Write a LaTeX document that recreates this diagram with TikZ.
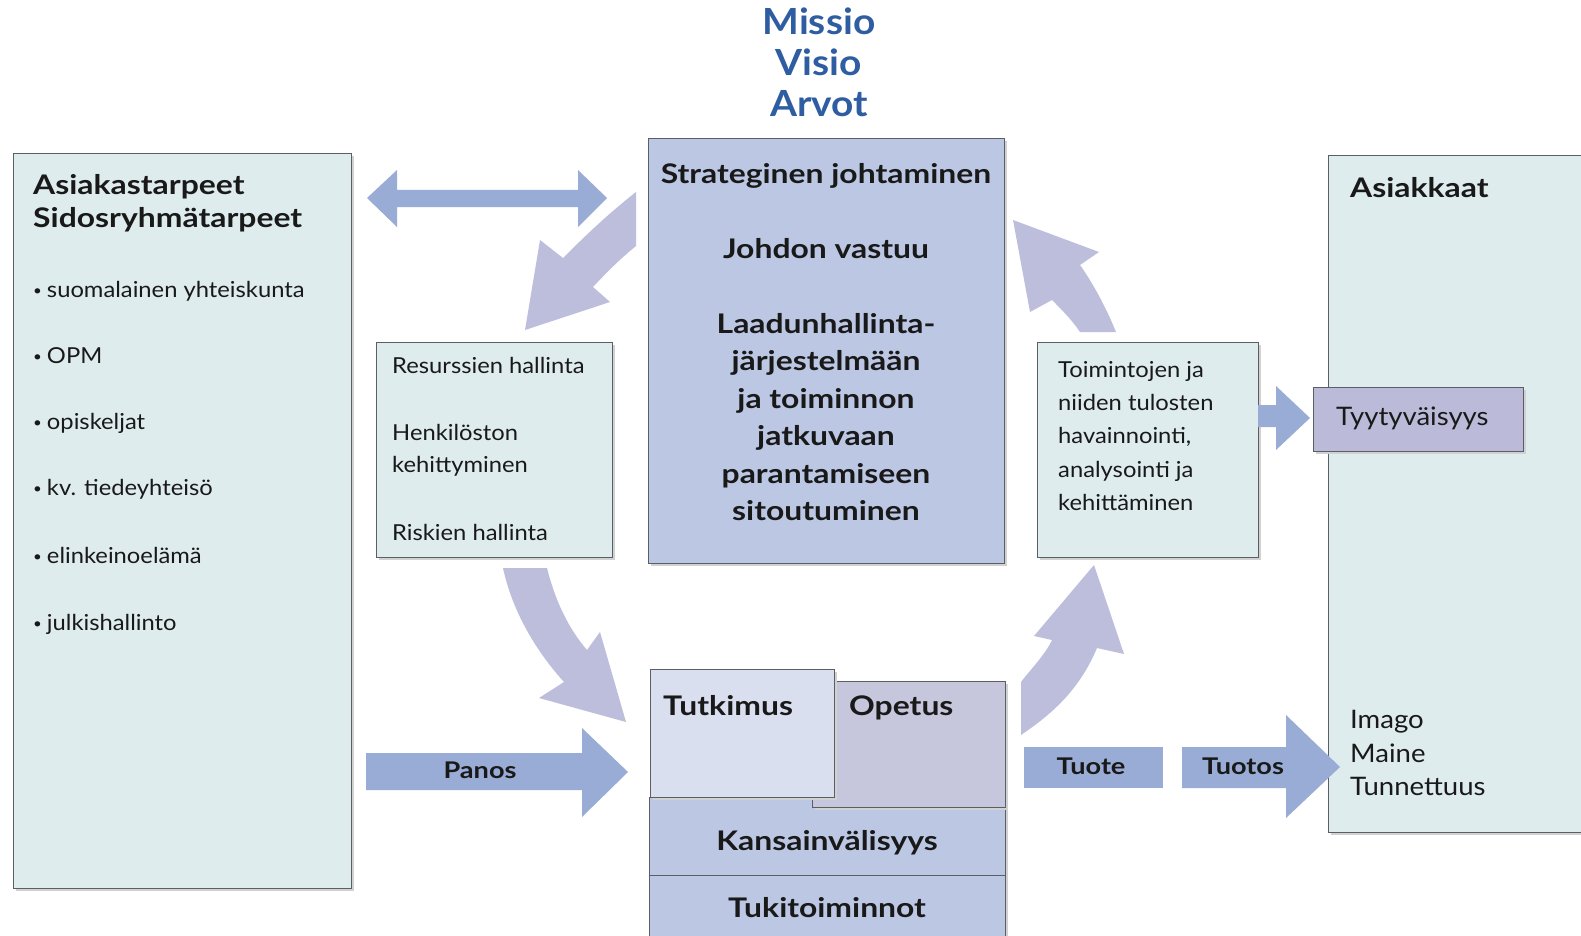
\documentclass[tikz,border=0pt]{standalone}
\usepackage{fontspec}
\setmainfont{Lato}
\newfontfamily\gb{Lato}[FakeStretch=1.18]
\newfontfamily\gr{Lato}[FakeStretch=1.08]
\definecolor{boxcyan}{HTML}{DFECEE}
\definecolor{boxline}{HTML}{5A5F66}
\definecolor{centerfill}{HTML}{BCC7E4}
\definecolor{arrowblue}{HTML}{98ACD6}
\definecolor{curvefill}{HTML}{BDBEDC}
\definecolor{tyyfill}{HTML}{BBBBD9}
\definecolor{tutfill}{HTML}{DADFF0}
\definecolor{opefill}{HTML}{C6C7DD}
\definecolor{titleblue}{HTML}{2F5DA2}
\newcommand{\smbul}{{\fontsize{14}{14}\selectfont\raisebox{1.5pt}{\textbullet}}\hspace{5pt}}
\tikzset{
  panel/.style={draw=boxline, line width=1.2pt},
  shadowed/.style={fill=black!18},
  lbl/.style={anchor=base west, inner sep=0pt, text=black!90},
  clbl/.style={anchor=base, inner sep=0pt, text=black!90},
  bigbold/.style={font=\gb\bfseries\fontsize{27}{30}\selectfont},
  arrbold/.style={font=\gb\bfseries\fontsize{23}{26}\selectfont},
  midreg/.style={font=\gr\fontsize{22}{26}\selectfont},
  bulreg/.style={font=\gr\fontsize{22}{27}\selectfont},
  custreg/.style={font=\gr\fontsize{25.5}{30}\selectfont},
  flatarrow/.style={fill=arrowblue},
  curvearrow/.style={fill=curvefill},
}
\begin{document}
\begin{tikzpicture}[x=1pt,y=-1pt]
\useasboundingbox (0,0) rectangle (1581,936);
\clip (0,0) rectangle (1581,936);
\fill[white] (0,0) rectangle (1581,936);

% ---------- title
\foreach \t/\yy in {Missio/35,Visio/76,Arvot/117}
  \node[anchor=base, inner sep=0pt, text=titleblue, font=\gr\bfseries\fontsize{36}{40}\selectfont] at (819,\yy) {\t};

% ---------- left box
\fill[shadowed] (16,156) rectangle (354,891);
\node[panel, fill=boxcyan, anchor=north west, minimum width=338pt, minimum height=735pt, inner sep=0pt] (needs) at (13,153) {};
\node[lbl, bigbold] (n1) at (33,195) {Asiakastarpeet};
\node[lbl, bigbold] (n2) at (33,227) {Sidosryhmätarpeet};
\foreach \t/\yy [count=\i] in {suomalainen yhteiskunta/297,OPM/363,opiskeljat/429,kv. tiedeyhteisö/495,elinkeinoelämä/563,julkishallinto/630}{
  \node[lbl, bulreg] (b\i) at (33,\yy) {\smbul\t};
}

% ---------- right big box
\fill[shadowed] (1331,158) rectangle (1600,835);
\node[panel, fill=boxcyan, anchor=north west, minimum width=280pt, minimum height=677pt, inner sep=0pt] (cust) at (1328,155) {};
\node[lbl, bigbold] (custt) at (1350,197) {Asiakkaat};
\node[lbl, custreg] (im1) at (1350,728) {Imago};
\node[lbl, custreg] (im2) at (1350,762) {Maine};
\node[lbl, custreg] (im3) at (1350,795) {Tunnettuus};

% ---------- centre box
\fill[shadowed] (651,141) rectangle (1007,566);
\node[panel, fill=centerfill, anchor=north west, minimum width=356pt, minimum height=425pt, inner sep=0pt] (strat) at (648,138) {};
\foreach \t/\yy in {Strateginen johtaminen/183,Johdon vastuu/258,Laadunhallinta-/333,järjestelmään/370,ja toiminnon/408,jatkuvaan/445,parantamiseen/483,sitoutuminen/520}
  \node[clbl, bigbold] at (826,\yy) {\t};

% ---------- resources box
\fill[shadowed] (379,345) rectangle (615,560);
\node[panel, fill=boxcyan, anchor=north west, minimum width=236pt, minimum height=215pt, inner sep=0pt] (res) at (376,342) {};
\node[lbl, midreg] at (392,373) {Resurssien hallinta};
\node[lbl, midreg] at (392,440) {Henkilöston};
\node[lbl, midreg] at (392,472) {kehittyminen};
\node[lbl, midreg] at (392,540) {Riskien hallinta};

% ---------- monitoring box
\fill[shadowed] (1040,345) rectangle (1261,560);
\node[panel, fill=boxcyan, anchor=north west, minimum width=221pt, minimum height=215pt, inner sep=0pt] (mon) at (1037,342) {};
\foreach \t/\yy in {Toimintojen ja/377,niiden tulosten/410,{havainnointi,}/443,analysointi ja/477,kehittäminen/510}
  \node[lbl, midreg] at (1058,\yy) {\t};

% ---------- satisfaction
\fill[shadowed] (1316,390) rectangle (1526,454);
\node[panel, fill=tyyfill, anchor=north west, minimum width=210pt, minimum height=64pt, inner sep=0pt] (sat) at (1313,387) {};
\node[lbl, custreg] at (1336,425) {Tyytyväisyys};

% ---------- bottom block
\fill[shadowed] (652,800) rectangle (1008,950);
\node[panel, fill=centerfill, anchor=north west, minimum width=356pt, minimum height=150pt, inner sep=0pt] (core) at (649,797) {};
\draw[boxline, line width=1pt] (649,875) -- (1005,875);
\node[clbl, bigbold] (kv) at (827,850) {Kansainvälisyys};
\node[clbl, bigbold] (tuki) at (827,917) {Tukitoiminnot};
\fill[shadowed] (815,684) rectangle (1008,810);
\node[panel, fill=opefill, anchor=north west, minimum width=193pt, minimum height=126pt, inner sep=0pt] (ope) at (812,681) {};
\fill[shadowed] (653,672) rectangle (837,800);
\node[panel, fill=tutfill, anchor=north west, minimum width=184pt, minimum height=128pt, inner sep=0pt] (tut) at (650,669) {};
\node[lbl, bigbold] at (663,715) {Tutkimus};
\node[lbl, bigbold] at (849,715) {Opetus};

% ---------- straight block arrows
% double arrow between needs and strategy
\fill[flatarrow] (367,198) -- (397,170) -- (397,190) -- (578,190) -- (578,170) -- (607,198)
  -- (578,227) -- (578,207) -- (397,207) -- (397,227) -- cycle;
% Panos
\fill[flatarrow] (366,753) -- (582,753) -- (582,728) -- (628,772) -- (582,817) -- (582,790) -- (366,790) -- cycle;
\node[clbl, arrbold] (panos) at (480,778) {Panos};
% monitoring -> satisfaction
\fill[flatarrow] (1258,405) -- (1276,405) -- (1276,386) -- (1310,418) -- (1276,450) -- (1276,427) -- (1258,427) -- cycle;
% Tuote
\fill[flatarrow] (1024,747) rectangle (1163,788);
\node[clbl, arrbold] (tuote) at (1091,774) {Tuote};
% Tuotos
\fill[flatarrow] (1182,747) -- (1286,747) -- (1286,715) -- (1340,767) -- (1286,818) -- (1286,788) -- (1182,788) -- cycle;
\node[clbl, arrbold] (tuotos) at (1243,774) {Tuotos};

% ---------- curved block arrows
% strategy -> resources
\fill[curvearrow] (636,192) .. controls (608,214) and (585,236) .. (563,258)
  -- (540,240) -- (525,330) -- (610,302) -- (593,287)
  .. controls (608,271) and (620,259) .. (636,246) -- cycle;
% resources -> core
\fill[curvearrow] (503,568) -- (547,568)
  .. controls (555,600) and (568,628) .. (587,650)
  -- (600,632) -- (626,722) -- (539,698) -- (564,682)
  .. controls (535,650) and (512,610) .. cycle;
% core -> monitoring
\fill[curvearrow] (1021,735) -- (1021,682)
  .. controls (1030,670) and (1045,655) .. (1052,640)
  -- (1034,636) -- (1094,565) -- (1124,654) -- (1097,648)
  .. controls (1080,688) and (1055,712) .. cycle;
% monitoring -> strategy
\fill[curvearrow] (1080,332) -- (1116,332)
  .. controls (1105,305) and (1092,282) .. (1080,265)
  -- (1099,252) -- (1013,220) -- (1030,312) -- (1052,300)
  .. controls (1062,310) and (1072,320) .. cycle;
\end{tikzpicture}
\end{document}
